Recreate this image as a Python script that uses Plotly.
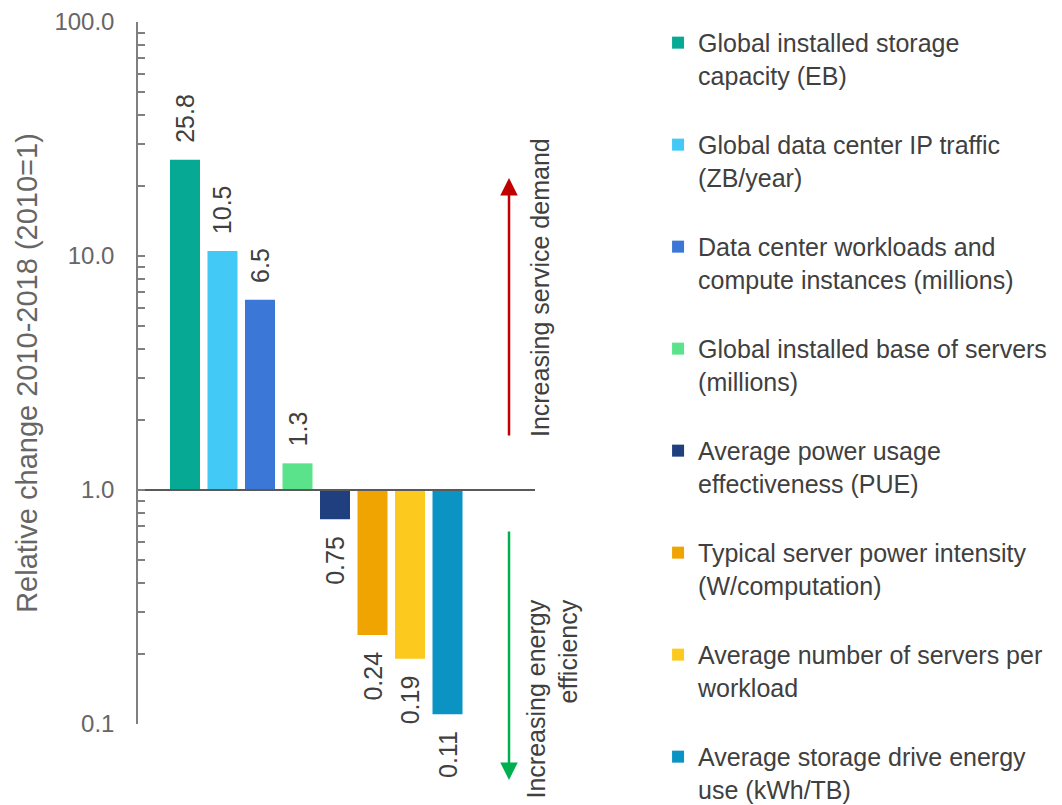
import plotly.graph_objects as go

# ---- data ----
categories = [
    "Global installed storage capacity (EB)",
    "Global data center IP traffic (ZB/year)",
    "Data center workloads and compute instances (millions)",
    "Global installed base of servers (millions)",
    "Average power usage effectiveness (PUE)",
    "Typical server power intensity (W/computation)",
    "Average number of servers per workload",
    "Average storage drive energy use (kWh/TB)",
]
legend_names = [
    "Global installed storage<br>capacity (EB)",
    "Global data center IP traffic<br>(ZB/year)",
    "Data center workloads and<br>compute instances (millions)",
    "Global installed base of servers<br>(millions)",
    "Average power usage<br>effectiveness (PUE)",
    "Typical server power intensity<br>(W/computation)",
    "Average number of servers per<br>workload",
    "Average storage drive energy<br>use (kWh/TB)",
]
values = [25.8, 10.5, 6.5, 1.3, 0.75, 0.24, 0.19, 0.11]
value_labels = ["25.8", "10.5", "6.5", "1.3", "0.75", "0.24", "0.19", "0.11"]
colors = ["#05A994", "#42C9F6", "#3B77D6", "#5BE38C", "#1F3F7E", "#F0A402", "#FCCA1E", "#0B93C4"]

tick_vals = [0.1, 1, 10, 100]
tick_text = ["0.1", "1.0", "10.0", "100.0"]
minor_vals = [m * d for d in (0.1, 1, 10) for m in range(2, 10)]

base_value = 1.0
NB = "\u00a0\u00a0"

fig = go.Figure()
for i, (cat, name, v, lab, col) in enumerate(zip(categories, legend_names, values, value_labels, colors)):
    txt = NB + lab if v >= base_value else lab + NB
    fig.add_trace(go.Bar(
        x=[cat], y=[v - base_value], base=base_value,
        name=name, legendgroup="g%d" % i,
        marker=dict(color=col, line=dict(width=0)),
        width=0.8,
        text=[txt], textposition="outside", textangle=-90,
        constraintext="none", cliponaxis=False,
        textfont=dict(size=25, color="#404040", family="Liberation Sans, Arial, sans-serif"),
        hovertemplate=lab + "<extra></extra>",
    ))

fig.update_layout(
    width=1062, height=805,
    margin=dict(l=138, r=527, t=22, b=81, autoexpand=False),
    paper_bgcolor="white", plot_bgcolor="white",
    barmode="overlay",
    font=dict(family="Liberation Sans, Arial, sans-serif", color="#595959"),
    showlegend=True,
    legend=dict(
        x=1.31, y=1.003, xanchor="left", yanchor="top",
        font=dict(size=25, color="#404040"),
        tracegroupgap=34, valign="top", itemwidth=30,
        bgcolor="rgba(0,0,0,0)", maxheight=2000,
    ),
    xaxis=dict(
        type="category", categoryorder="array", categoryarray=categories,
        range=[-1.253, 9.333], showticklabels=False, ticks="",
        showgrid=False, zeroline=False,
        showline=True, linecolor="#595959", linewidth=1.5,
        anchor="free", position=1/3,
    ),
    yaxis=dict(
        type="log", range=[-1, 2],
        tickvals=tick_vals, ticktext=tick_text,
        ticks="inside", ticklen=7, tickwidth=1.5, tickcolor="#7f7f7f",
        minor=dict(tickmode="array", tickvals=minor_vals, ticks="inside",
                   ticklen=7, tickwidth=1.5, tickcolor="#7f7f7f", showgrid=False),
        showline=True, linecolor="#7f7f7f", linewidth=1.5,
        showgrid=False, zeroline=False,
        tickfont=dict(size=24, color="#666666"),
        ticklabelstandoff=17,
        title=dict(text="Relative change 2010-2018 (2010=1)",
                   font=dict(size=29, color="#666666"), standoff=8),
    ),
    annotations=[
        dict(x=8.64, y=1.333, ax=8.64, ay=0.2265, xref="x", yref="y",
             axref="x", ayref="y", text="", showarrow=True,
             arrowhead=2, arrowsize=1.4, arrowwidth=2.5, arrowcolor="#C00000"),
        dict(x=8.64, y=-1.239, ax=8.64, ay=-0.171, xref="x", yref="y",
             axref="x", ayref="y", text="", showarrow=True,
             arrowhead=2, arrowsize=1.4, arrowwidth=2.5, arrowcolor="#00B050"),
        dict(x=1.0126, y=0.863, xref="paper", yref="y", xanchor="center", yanchor="middle",
             text="Increasing service demand",
             textangle=-90, showarrow=False, font=dict(size=25, color="#404040")),
        dict(x=1.0428, y=-0.891, xref="paper", yref="y", xanchor="center", yanchor="middle",
             text="Increasing energy<br>efficiency",
             textangle=-90, align="right", showarrow=False,
             font=dict(size=25, color="#404040")),
    ],
)

fig.write_html("out.html")
